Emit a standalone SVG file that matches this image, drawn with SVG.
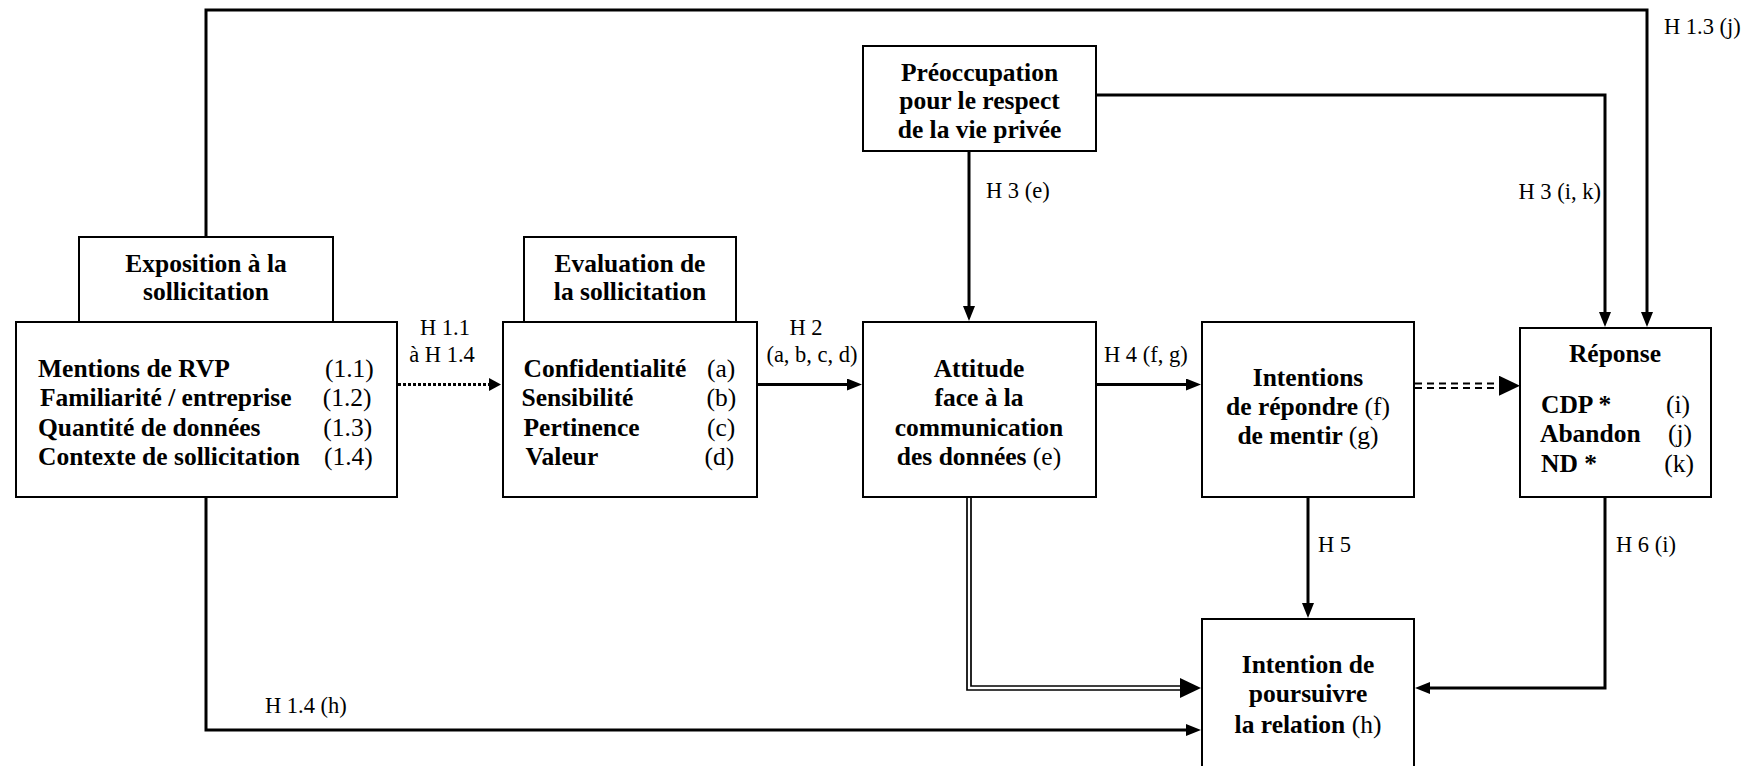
<svg xmlns="http://www.w3.org/2000/svg" width="1751" height="766" viewBox="0 0 1751 766">
<style>
.box{fill:#fff;stroke:#000;stroke-width:2}
.t{font-family:"Liberation Serif","Times New Roman",serif;font-size:25.5px;font-weight:bold;fill:#000}
.n{font-weight:normal}
.lbl{font-family:"Liberation Serif","Times New Roman",serif;font-size:22.5px;fill:#000}
.c{text-anchor:middle}
.e{text-anchor:end}
.ln{fill:none;stroke:#000;stroke-width:3}
.thin{fill:none;stroke:#000;stroke-width:1.7}
.dash{fill:none;stroke:#000;stroke-width:2.2;stroke-dasharray:7 5}
.dot{fill:none;stroke:#000;stroke-width:3;stroke-dasharray:3 2}
</style>
<defs>
<marker id="arr" markerUnits="userSpaceOnUse" markerWidth="16" markerHeight="12" refX="9" refY="6" orient="auto"><path d="M0,0 L15,6 L0,12 z" fill="#000"/></marker>
<marker id="arrS" markerUnits="userSpaceOnUse" markerWidth="13" markerHeight="13" refX="6" refY="6.5" orient="auto"><path d="M0,0 L12,6.5 L0,13 z" fill="#000"/></marker>
<marker id="arrBig" markerUnits="userSpaceOnUse" markerWidth="22" markerHeight="20" refX="21" refY="10" orient="auto"><path d="M0,0 L21,10 L0,20 z" fill="#000"/></marker>
</defs>
<rect width="1751" height="766" fill="#fff"/>

<g id="connectors">
<path class="ln" d="M206,237 V10 H1647 V321" marker-end="url(#arr)"/>
<path class="ln" d="M1096,95 H1605 V321" marker-end="url(#arr)"/>
<path class="ln" d="M969,151 V315" marker-end="url(#arr)"/>
<path class="dot" d="M398,384.5 H495" marker-end="url(#arrS)"/>
<path class="ln" d="M757,384.5 H856" marker-end="url(#arr)"/>
<path class="ln" d="M1096,384.5 H1195" marker-end="url(#arr)"/>
<path class="dash" d="M1415,383.5 H1500"/>
<path class="dash" d="M1415,388 H1500"/>
<path d="M1480,385.7 H1520" stroke="none" fill="none" marker-end="url(#arrBig)"/>
<path class="ln" d="M1308,497 V612" marker-end="url(#arr)"/>
<path class="ln" d="M1605,497 V688 H1421" marker-end="url(#arr)"/>
<path class="ln" d="M206,497 V730 H1195" marker-end="url(#arr)"/>
<path class="thin" d="M967,497 V690 H1186"/>
<path class="thin" d="M971,497 V686 H1186"/>
<path d="M1170,688 H1201" stroke="none" fill="none" marker-end="url(#arrBig)"/>
<text class="lbl" x="1664" y="34">H 1.3 (j)</text>
<text class="lbl" x="986" y="198">H 3 (e)</text>
<text class="lbl e" x="1601" y="199">H 3 (i, k)</text>
<text class="lbl c" x="445" y="335">H 1.1</text>
<text class="lbl c" x="442" y="361.5">à H 1.4</text>
<text class="lbl c" x="806" y="335">H 2</text>
<text class="lbl c" x="812" y="361.5">(a, b, c, d)</text>
<text class="lbl" x="1104" y="361.5">H 4 (f, g)</text>
<text class="lbl" x="1318" y="552">H 5</text>
<text class="lbl" x="1616" y="552">H 6 (i)</text>
<text class="lbl" x="265" y="713">H 1.4 (h)</text>
</g>

<g id="preoccupation">
<rect class="box" x="863" y="46" width="233" height="105"/>
<text class="t c" x="979.5" y="80.5">Préoccupation</text>
<text class="t c" x="979.5" y="109">pour le respect</text>
<text class="t c" x="979.5" y="137.5">de la vie privée</text>
</g>

<g id="exposition-header">
<rect class="box" x="79" y="237" width="254" height="85"/>
<text class="t c" x="206" y="271.5">Exposition à la</text>
<text class="t c" x="206" y="299.5">sollicitation</text>
</g>

<g id="evaluation-header">
<rect class="box" x="524" y="237" width="212" height="85"/>
<text class="t c" x="630" y="271.5">Evaluation de</text>
<text class="t c" x="630" y="299.5">la sollicitation</text>
</g>

<g id="exposition">
<rect class="box" x="16" y="322" width="381" height="175"/>
<text class="t" x="38" y="377">Mentions de RVP</text>
<text class="t" x="40" y="406.3">Familiarité / entreprise</text>
<text class="t" x="38" y="435.6">Quantité de données</text>
<text class="t" x="38" y="465">Contexte de sollicitation</text>
<text class="t n" x="325" y="377">(1.1)</text>
<text class="t n" x="322.7" y="406.3">(1.2)</text>
<text class="t n" x="323.3" y="435.6">(1.3)</text>
<text class="t n" x="324" y="465">(1.4)</text>
</g>

<g id="evaluation">
<rect class="box" x="503" y="322" width="254" height="175"/>
<text class="t" x="523.5" y="377">Confidentialité</text>
<text class="t" x="521.5" y="406.3">Sensibilité</text>
<text class="t" x="523.5" y="435.6">Pertinence</text>
<text class="t" x="525.5" y="465">Valeur</text>
<text class="t n" x="707" y="377">(a)</text>
<text class="t n" x="706.6" y="406.3">(b)</text>
<text class="t n" x="707" y="435.6">(c)</text>
<text class="t n" x="704.6" y="465">(d)</text>
</g>

<g id="attitude">
<rect class="box" x="863" y="322" width="233" height="175"/>
<text class="t c" x="979" y="377">Attitude</text>
<text class="t c" x="979" y="406.3">face à la</text>
<text class="t c" x="979" y="435.6">communication</text>
<text class="t c" x="979" y="465">des données <tspan class="n">(e)</tspan></text>
</g>

<g id="intentions">
<rect class="box" x="1202" y="322" width="212" height="175"/>
<text class="t c" x="1308" y="386">Intentions</text>
<text class="t c" x="1308" y="415">de répondre <tspan class="n">(f)</tspan></text>
<text class="t c" x="1308" y="444">de mentir <tspan class="n">(g)</tspan></text>
</g>

<g id="reponse">
<rect class="box" x="1520" y="328" width="191" height="169"/>
<text class="t c" x="1615" y="361.5">Réponse</text>
<text class="t" x="1541" y="413.3">CDP *</text>
<text class="t" x="1540" y="441.7">Abandon</text>
<text class="t" x="1541" y="471.7">ND *</text>
<text class="t n" x="1666" y="413.3">(i)</text>
<text class="t n" x="1668" y="441.7">(j)</text>
<text class="t n" x="1664.3" y="471.7">(k)</text>
</g>

<g id="poursuivre">
<rect class="box" x="1202" y="619" width="212" height="160"/>
<text class="t c" x="1308" y="673">Intention de</text>
<text class="t c" x="1308" y="702">poursuivre</text>
<text class="t c" x="1308" y="733">la relation <tspan class="n">(h)</tspan></text>
</g>
</svg>
